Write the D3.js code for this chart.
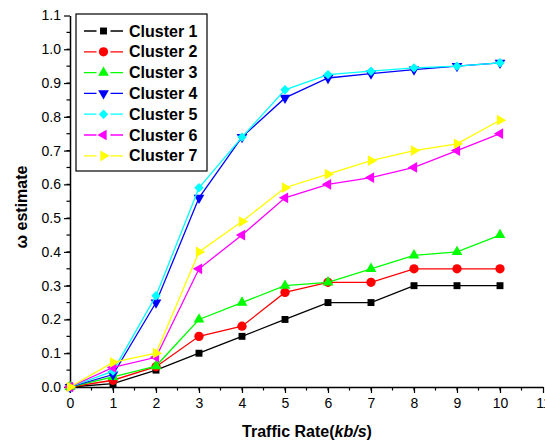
<!DOCTYPE html>
<html>

<head>
    <title>Cluster estimate</title>
    <script src="https://d3js.org/d3.v7.min.js"></script>
    <style>
        body {
            margin: 0;
            background: #fff;
        }

        svg text {
            font-family: "Liberation Sans", Arial, sans-serif;
        }

        .tick text {
            font-size: 14px;
            fill: #000;
        }

        .axis-title {
            font-size: 16px;
            font-weight: bold;
        }

        .legend-label {
            font-size: 16px;
            font-weight: bold;
        }
    </style>
</head>

<body>
<script>
    var w = 545;
    var h = 443;

    var rates = [0, 1, 2, 3, 4, 5, 6, 7, 8, 9, 10];
    var xTicks = [0, 1, 2, 3, 4, 5, 6, 7, 8, 9, 10, 11];
    var yTicks = [0, 0.1, 0.2, 0.3, 0.4, 0.5, 0.6, 0.7, 0.8, 0.9, 1.0, 1.1];

    var clusterNames = ["Cluster 1", "Cluster 2", "Cluster 3", "Cluster 4", "Cluster 5", "Cluster 6", "Cluster 7"];
    var cluster1 = [0, 0.01, 0.05, 0.10, 0.15, 0.20, 0.25, 0.25, 0.30, 0.30, 0.30];
    var cluster2 = [0, 0.02, 0.06, 0.15, 0.18, 0.28, 0.31, 0.31, 0.35, 0.35, 0.35];
    var cluster3 = [0, 0.03, 0.062, 0.20, 0.25, 0.30, 0.31, 0.35, 0.39, 0.40, 0.45];
    var cluster4 = [0, 0.037, 0.25, 0.56, 0.74, 0.856, 0.915, 0.928, 0.94, 0.95, 0.96];
    var cluster5 = [0, 0.047, 0.27, 0.59, 0.74, 0.88, 0.925, 0.935, 0.945, 0.95, 0.96];
    var cluster6 = [0, 0.058, 0.088, 0.35, 0.45, 0.56, 0.60, 0.62, 0.65, 0.70, 0.75];
    var cluster7 = [0, 0.073, 0.10, 0.40, 0.49, 0.59, 0.63, 0.67, 0.70, 0.72, 0.79];

    var allSeries = [cluster1, cluster2, cluster3, cluster4, cluster5, cluster6, cluster7];
    var colors = ["#000000", "#ff0000", "#00ff00", "#0000ff", "#00ffff", "#ff00ff", "#ffff00"];

    var padLeft = 70, padBottom = 387, padTop = 15.5, padRight = 543;

    var x = d3.scaleLinear().domain([0, 11]).range([padLeft, padRight]);
    var y = d3.scaleLinear().domain([0, 1.1]).range([padBottom, padTop]);

    var svg = d3.select("body")
        .append("svg")
        .attr("width", w)
        .attr("height", h);

    // minor ticks
    var xMinor = d3.range(0, 11, 0.5);
    var yMinor = d3.range(0, 1.1, 0.05);

    svg.append("g")
        .selectAll("line")
        .data(xMinor)
        .enter()
        .append("line")
        .attr("x1", function (d) { return x(d); })
        .attr("x2", function (d) { return x(d); })
        .attr("y1", padBottom)
        .attr("y2", padBottom + 3.5)
        .attr("stroke", "#000")
        .attr("stroke-width", 1.2);

    svg.append("g")
        .selectAll("line")
        .data(yMinor)
        .enter()
        .append("line")
        .attr("y1", function (d) { return y(d); })
        .attr("y2", function (d) { return y(d); })
        .attr("x1", padLeft)
        .attr("x2", padLeft - 3.5)
        .attr("stroke", "#000")
        .attr("stroke-width", 1.2);

    svg.append("g")
        .attr("transform", "translate(0," + padBottom + ")")
        .call(d3.axisBottom(x).tickValues(xTicks).tickSize(6).tickSizeOuter(0).tickPadding(5).tickFormat(d3.format("d")));

    svg.append("g")
        .attr("transform", "translate(" + padLeft + ",0)")
        .call(d3.axisLeft(y).tickValues(yTicks).tickSize(6).tickSizeOuter(0).tickPadding(3).tickFormat(d3.format(".1f")));

    svg.selectAll(".domain").attr("stroke", "#000").attr("stroke-width", 1.5);
    svg.selectAll(".tick line").attr("stroke", "#000").attr("stroke-width", 1.2);

    svg.append("text")
        .attr("class", "axis-title")
        .attr("x", 307)
        .attr("y", 437)
        .attr("text-anchor", "middle")
        .html("Traffic Rate(<tspan font-style='italic'>kb/s</tspan>)");

    svg.append("text")
        .attr("class", "axis-title")
        .attr("transform", "translate(27,207) rotate(-90)")
        .attr("text-anchor", "middle")
        .text("\u03c9 estimate");

    var symbols = [d3.symbolSquare, d3.symbolCircle, d3.symbolTriangle, d3.symbolTriangle, d3.symbolSquare, d3.symbolTriangle, d3.symbolTriangle];
    var sizes = [48, 68, 50, 50, 44, 50, 50];
    var rotations = [0, 0, 0, 180, 45, -90, 90];

    function marker(g, i) {
        g.append("path")
            .attr("d", d3.symbol().type(symbols[i]).size(sizes[i]))
            .attr("transform", "rotate(" + rotations[i] + ")")
            .attr("fill", colors[i]);
    }

    var line = d3.line()
        .x(function (d, i) { return x(rates[i]); })
        .y(function (d) { return y(d); });

    allSeries.forEach(function (values, i) {
        svg.append("path")
            .attr("d", line(values))
            .attr("fill", "none")
            .attr("stroke", colors[i])
            .attr("stroke-width", 1.3);

        values.forEach(function (v, j) {
            var g = svg.append("g")
                .attr("transform", "translate(" + x(rates[j]) + "," + y(v) + ")");
            marker(g, i);
        });
    });

    // legend
    var legend = svg.append("g");
    legend.append("rect")
        .attr("x", 76)
        .attr("y", 14)
        .attr("width", 131)
        .attr("height", 157)
        .attr("fill", "#fff")
        .attr("stroke", "#000")
        .attr("stroke-width", 1.2);

    clusterNames.forEach(function (name, i) {
        var cy = 31 + i * 20.8;
        legend.append("line")
            .attr("x1", 84)
            .attr("x2", 123)
            .attr("y1", cy)
            .attr("y2", cy)
            .attr("stroke", colors[i])
            .attr("stroke-width", 1.3);
        var g = legend.append("g")
            .attr("transform", "translate(103.5," + cy + ")");
        g.append("rect")
            .attr("x", -7).attr("y", -6).attr("width", 14).attr("height", 12)
            .attr("fill", "#fff");
        marker(g, i);
        legend.append("text")
            .attr("class", "legend-label")
            .attr("x", 129)
            .attr("y", cy + 5.5)
            .text(name);
    });
</script>
</body>

</html>
